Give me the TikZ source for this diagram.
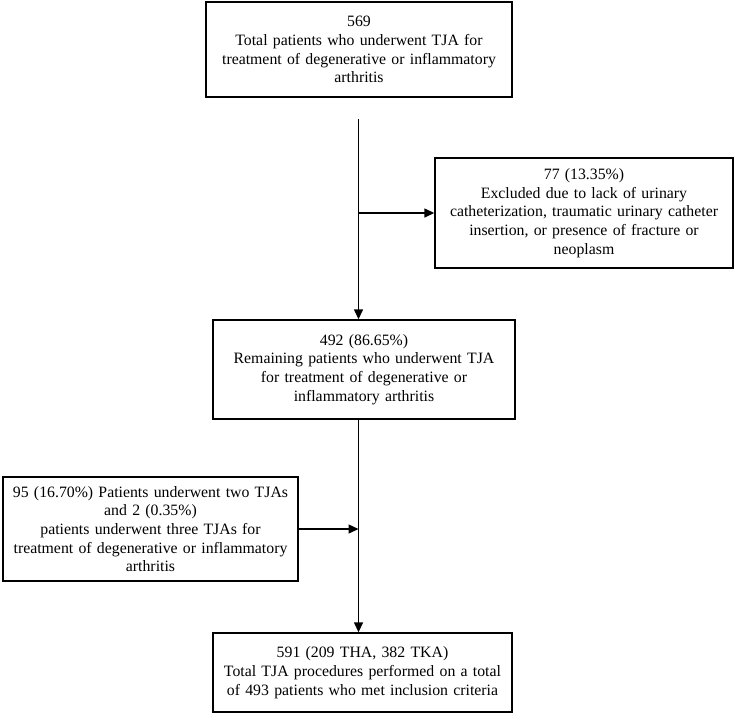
\documentclass[tikz,border=0pt]{standalone}
\usepackage{fontspec}
\setmainfont{Liberation Serif}
\usetikzlibrary{arrows.meta}

\begin{document}
\begin{tikzpicture}[x=1pt,y=-1pt,
    box/.style={draw,line width=1.4pt,align=center,inner sep=4pt,
        font=\fontsize{15.8}{18.7}\selectfont},
    flow/.style={line width=1.4pt,-{Triangle[length=10pt,width=9pt]}}]
    \useasboundingbox (0,0) rectangle (735,721);
    \node[box,text width=298pt,minimum height=95pt] (total) at (359,49.5)
        {569\\Total patients who underwent TJA for\\treatment of degenerative or inflammatory\\arthritis};
    \node[box,text width=290pt,minimum height=110pt] (excluded) at (584,213)
        {77 (13.35\%)\\Excluded due to lack of urinary\\catheterization, traumatic urinary catheter\\insertion, or presence of fracture or\\neoplasm};
    \node[box,text width=294pt,minimum height=99pt] (remaining) at (364,369.5)
        {492 (86.65\%)\\Remaining patients who underwent TJA\\for treatment of degenerative or\\inflammatory arthritis};
    \node[box,text width=287pt,minimum height=104pt] (multiple) at (150.5,529)
        {95 (16.70\%) Patients underwent two TJAs\\and 2 (0.35\%)\\patients underwent three TJAs for\\treatment of degenerative or inflammatory\\arthritis};
    \node[box,text width=291pt,minimum height=79pt] (procedures) at (362.5,672.5)
        {591 (209 THA, 382 TKA)\\Total TJA procedures performed on a total\\of 493 patients who met inclusion criteria};
    \coordinate (split) at (358.5,119);
    \draw[flow] (split) -- (split |- remaining.north);
    \draw[flow] (split |- excluded.west) -- (excluded.west);
    \draw[flow] (remaining.south -| split) -- (split |- procedures.north);
    \draw[flow] (multiple.east) -- (multiple.east -| split);
\end{tikzpicture}
\end{document}
